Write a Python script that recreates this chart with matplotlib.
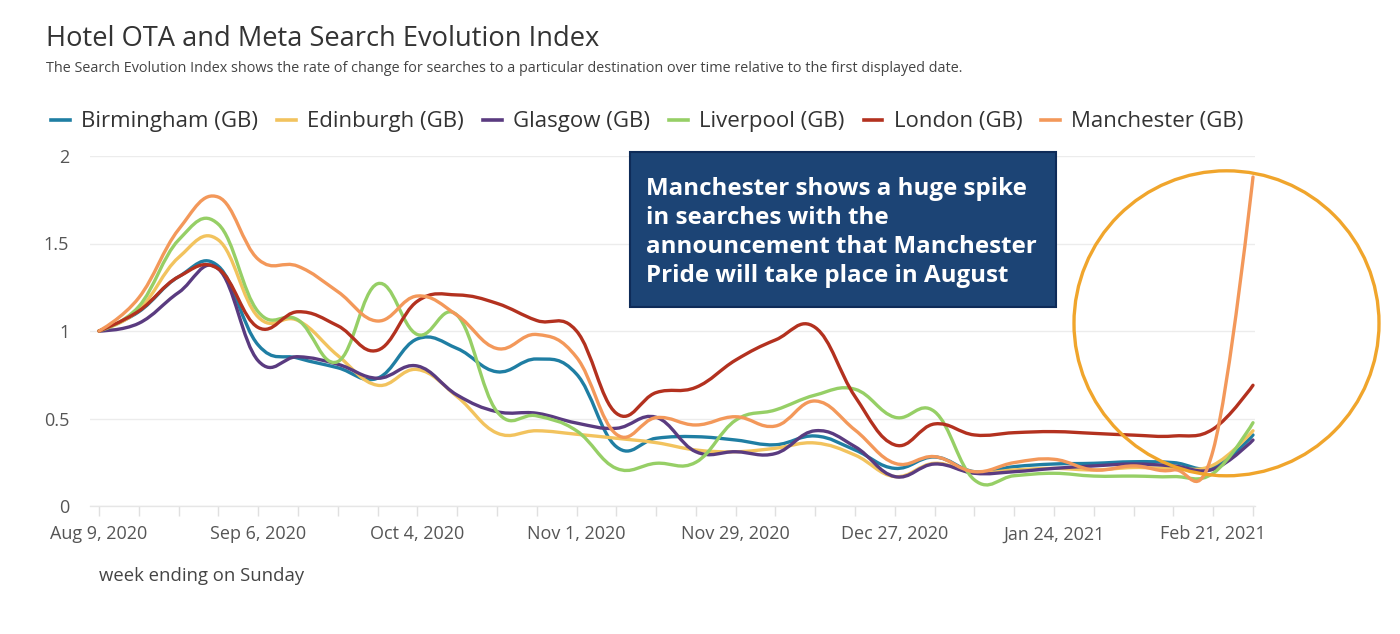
import numpy as np
import pandas as pd
import matplotlib
matplotlib.use("Agg")
import matplotlib.pyplot as plt
from matplotlib.path import Path
from matplotlib.patches import PathPatch, Ellipse, Rectangle
from matplotlib.lines import Line2D

# ---------------- data ----------------
weeks = pd.date_range("2020-08-09", periods=30, freq="7D")   # week ending on Sunday
tick_every = 4

series_names = ["Birmingham (GB)", "Edinburgh (GB)", "Glasgow (GB)",
                "Liverpool (GB)", "London (GB)", "Manchester (GB)"]

birmingham = [1.00, 1.11, 1.31, 1.37, 0.92, 0.845, 0.79, 0.73, 0.955, 0.90,
              0.767, 0.84, 0.754, 0.339, 0.387, 0.396, 0.377, 0.35, 0.40, 0.32,
              0.215, 0.28, 0.196, 0.225, 0.24, 0.244, 0.253, 0.248, 0.221, 0.406]
edinburgh = [1.00, 1.12, 1.42, 1.52, 1.08, 1.06, 0.86, 0.69, 0.78, 0.625,
             0.417, 0.43, 0.41, 0.387, 0.362, 0.32, 0.31, 0.33, 0.36, 0.291,
             0.168, 0.244, 0.19, 0.206, 0.215, 0.206, 0.22, 0.215, 0.234, 0.43]
glasgow = [1.00, 1.044, 1.22, 1.355, 0.83, 0.853, 0.81, 0.73, 0.80, 0.634,
           0.539, 0.53, 0.474, 0.444, 0.507, 0.31, 0.31, 0.30, 0.43, 0.339,
           0.168, 0.24, 0.187, 0.196, 0.215, 0.229, 0.24, 0.229, 0.21, 0.377]
liverpool = [1.00, 1.14, 1.52, 1.61, 1.11, 1.063, 0.825, 1.27, 0.98, 1.09,
             0.54, 0.515, 0.43, 0.215, 0.244, 0.25, 0.49, 0.549, 0.634, 0.667,
             0.507, 0.539, 0.149, 0.173, 0.187, 0.171, 0.171, 0.168, 0.187, 0.476]
london = [1.00, 1.114, 1.31, 1.355, 1.02, 1.11, 1.03, 0.89, 1.17, 1.206,
          1.158, 1.06, 1.00, 0.53, 0.648, 0.678, 0.834, 0.949, 1.02, 0.625,
          0.349, 0.469, 0.406, 0.419, 0.425, 0.415, 0.405, 0.40, 0.44, 0.69]
manchester = [1.00, 1.19, 1.58, 1.765, 1.41, 1.37, 1.225, 1.057, 1.20, 1.09,
              0.90, 0.98, 0.85, 0.41, 0.505, 0.463, 0.51, 0.457, 0.60, 0.434,
              0.244, 0.282, 0.196, 0.248, 0.267, 0.206, 0.229, 0.206, 0.32, 1.88]

series_values = [birmingham, edinburgh, glasgow, liverpool, london, manchester]
series_colors = ["#1f7ea3", "#f2c35e", "#5a3b80", "#96cf66", "#b3311f", "#f3985a"]

y_ticks = [0, 0.5, 1, 1.5, 2]
y_tick_labels = ["0", "0.5", "1", "1.5", "2"]

title = "Hotel OTA and Meta Search Evolution Index"
subtitle = ("The Search Evolution Index shows the rate of change for searches to a "
            "particular destination over time relative to the first displayed date.")
x_title = "week ending on Sunday"
note = ("Manchester shows a huge spike\nin searches with the\n"
        "announcement that Manchester\nPride will take place in August")

# ---------------- helpers ----------------
def spline_path(xs, ys, smoothing=1.5):
    """Bezier spline through the points (Highcharts-like smoothing)."""
    n = len(xs)
    den = smoothing + 1
    left = [None] * n
    right = [None] * n
    for i in range(1, n - 1):
        lcx = (smoothing * xs[i] + xs[i - 1]) / den
        lcy = (smoothing * ys[i] + ys[i - 1]) / den
        rcx = (smoothing * xs[i] + xs[i + 1]) / den
        rcy = (smoothing * ys[i] + ys[i + 1]) / den
        corr = (rcy - lcy) * (rcx - xs[i]) / (rcx - lcx) + ys[i] - rcy
        left[i] = (lcx, lcy + corr)
        right[i] = (rcx, rcy + corr)
    verts = [(xs[0], ys[0])]
    codes = [Path.MOVETO]
    for i in range(1, n):
        c1 = right[i - 1] if right[i - 1] is not None else (xs[i - 1], ys[i - 1])
        c2 = left[i] if left[i] is not None else (xs[i], ys[i])
        verts += [c1, c2, (xs[i], ys[i])]
        codes += [Path.CURVE4] * 3
    return Path(verts, codes)

# ---------------- figure ----------------
W, H = 1400, 634
fig = plt.figure(figsize=(W / 100, H / 100), dpi=100)
FONT = ["Open Sans", "DejaVu Sans"]
plt.rcParams["font.family"] = FONT

ax_left, ax_right, ax_top, ax_bottom = 90, 1255, 156, 506
ax = fig.add_axes([ax_left / W, (H - ax_bottom) / H,
                   (ax_right - ax_left) / W, (ax_bottom - ax_top) / H])

x = np.arange(len(weeks))
for name, vals, col in zip(series_names, series_values, series_colors):
    p = spline_path(x, vals)
    ax.add_patch(PathPatch(p, fill=False, edgecolor=col, lw=2.4,
                           capstyle="round", joinstyle="round", zorder=3))

step_px = (1253 - 99) / 29.0
ax.set_xlim(-(99 - ax_left) / step_px, 29 + (ax_right - 1253) / step_px)
ax.set_ylim(0, 2)

for s in ["top", "right", "left"]:
    ax.spines[s].set_visible(False)
ax.spines["bottom"].set_color("#e6e6e6")
ax.spines["bottom"].set_linewidth(1.0)

ax.set_yticks(y_ticks)
ax.set_yticklabels(y_tick_labels)
ax.grid(axis="y", color="#ececec", lw=1.0)
ax.set_axisbelow(True)
ax.tick_params(axis="y", length=0, pad=15, labelsize=13, labelcolor="#555555")

ax.set_xticks(x, minor=True)
ax.set_xticks(x[::tick_every])
ax.set_xticklabels([f"{d.strftime('%b')} {d.day}, {d.year}" for d in weeks[::tick_every]])
ax.tick_params(axis="x", which="both", length=7, color="#e0e0e0", width=1)
ax.tick_params(axis="x", which="major", pad=7, labelsize=13, labelcolor="#555555")

# titles
fig.text(46 / W, 1 - 46 / H, title, fontsize=19.6, color="#333333", va="baseline", ha="left")
fig.text(46 / W, 1 - 72 / H, subtitle, fontsize=10.4, color="#444444", va="baseline", ha="left")
fig.text(99 / W, 1 - 581 / H, x_title, fontsize=13.3, color="#444444", va="baseline", ha="left")

# legend
handles = [Line2D([], [], color=c, lw=2.6) for c in series_colors]
fig.legend(handles, series_names, loc="center left",
           bbox_to_anchor=(51 / W, 1 - 122 / H), ncol=6, frameon=False,
           fontsize=16, handlelength=0.85, handletextpad=0.5, columnspacing=0.86,
           borderpad=0, borderaxespad=0, labelcolor="#333333")

# annotation circle (drawn in data coords, around the spike)
cx = (1226.5 - 99) / step_px
cy = (ax_bottom - 323.3) / 175.0
ax.add_patch(Ellipse((cx, cy), width=305 / step_px, height=305 / 175.0,
                     fill=False, edgecolor="#f0a52c", lw=2.4, clip_on=False, zorder=5))

# annotation box
fig.patches.append(Rectangle((630 / W, (H - 307) / H), 426 / W, 155 / H,
                             transform=fig.transFigure, facecolor="#1c4475",
                             edgecolor="#0e2b58", lw=1.5, zorder=6))
fig.text(646 / W, 1 - 177 / H, note, fontsize=17.4, color="white", fontweight="bold",
         va="top", ha="left", linespacing=1.28, zorder=7,
         family=["Open Sans", "DejaVu Sans"])

fig.savefig("out.png", dpi=100, facecolor="white")
